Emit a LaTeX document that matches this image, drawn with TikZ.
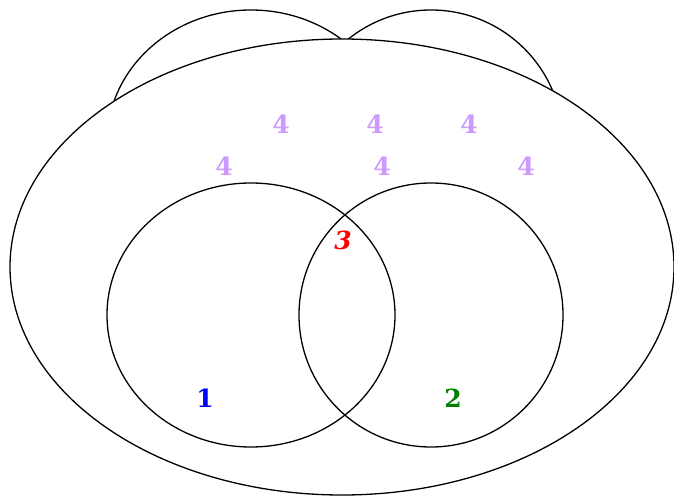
\documentclass[tikz,border=0pt]{standalone}
\usepackage{fontspec}
\setmainfont{DejaVu Serif}
\definecolor{lav}{RGB}{204,153,255}
\definecolor{dgreen}{RGB}{0,128,0}
\tikzset{
  lbl/.style={font=\fontsize{25}{30}\selectfont\bfseries, inner sep=0pt},
  shape line/.style={draw=black, line width=1.3pt}
}
\begin{document}
\begin{tikzpicture}[x=1pt,y=-1pt]
\useasboundingbox (0,0) rectangle (674,497);
% upper circles (partly hidden by the big ellipse)
\draw[shape line] (251,142) ellipse [x radius=144, y radius=132];
\draw[shape line] (431,142) ellipse [x radius=132, y radius=132];
% big ellipse
\filldraw[shape line, fill=white] (342,267) ellipse [x radius=332, y radius=228];
% lower circles
\draw[shape line] (251,315) ellipse [x radius=144, y radius=132];
\draw[shape line] (431,315) ellipse [x radius=132, y radius=132];
% labels
\node[lbl, text=blue] (n1) at (205,398) {1};
\node[lbl, text=dgreen] (n2) at (453,398) {2};
\node[lbl, text=red] (n3) at (343,240) {\itshape 3};
\node[lbl, text=lav] (a1) at (281,124) {4};
\node[lbl, text=lav] (a2) at (375,124) {4};
\node[lbl, text=lav] (a3) at (469,124) {4};
\node[lbl, text=lav] (b1) at (224,166) {4};
\node[lbl, text=lav] (b2) at (382,166) {4};
\node[lbl, text=lav] (b3) at (526,166) {4};
\end{tikzpicture}
\end{document}
